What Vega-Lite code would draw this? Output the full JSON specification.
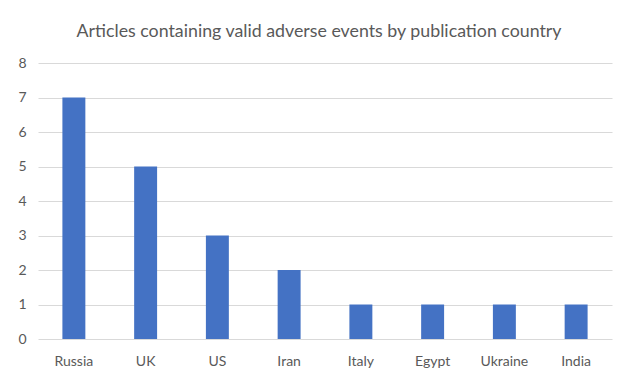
{
  "$schema": "https://vega.github.io/schema/vega-lite/v6.json",
  "autosize": "none",
  "width": 574,
  "height": 276,
  "padding": {"left": 38, "top": 63, "right": 26, "bottom": 47},
  "background": "white",
  "title": {
    "text": "Articles containing valid adverse events by publication country",
    "anchor": "middle",
    "frame": "group",
    "dx": -6,
    "offset": 15,
    "font": "Lato",
    "fontSize": 17.8,
    "fontWeight": "normal",
    "color": "#595959"
  },
  "data": {
    "values": [
      {"country": "Russia", "count": 7},
      {"country": "UK", "count": 5},
      {"country": "US", "count": 3},
      {"country": "Iran", "count": 2},
      {"country": "Italy", "count": 1},
      {"country": "Egypt", "count": 1},
      {"country": "Ukraine", "count": 1},
      {"country": "India", "count": 1}
    ]
  },
  "mark": {"type": "bar", "color": "#4472C4"},
  "encoding": {
    "x": {
      "field": "country",
      "type": "nominal",
      "sort": null,
      "scale": {"paddingInner": 0.68, "paddingOuter": 0.34},
      "axis": {
        "title": null,
        "labelAngle": 0,
        "labelFont": "Lato",
        "labelFontSize": 14,
        "labelColor": "#595959",
        "labelPadding": 15,
        "domain": false,
        "ticks": false
      }
    },
    "y": {
      "field": "count",
      "type": "quantitative",
      "scale": {"domain": [0, 8], "nice": false},
      "axis": {
        "title": null,
        "values": [0, 1, 2, 3, 4, 5, 6, 7, 8],
        "labelOverlap": false,
        "labelFont": "Lato",
        "labelFontSize": 14,
        "labelColor": "#595959",
        "labelPadding": 12,
        "domain": false,
        "ticks": false,
        "gridColor": "#d9d9d9",
        "gridWidth": 1
      }
    }
  },
  "config": {"view": {"stroke": null}}
}
